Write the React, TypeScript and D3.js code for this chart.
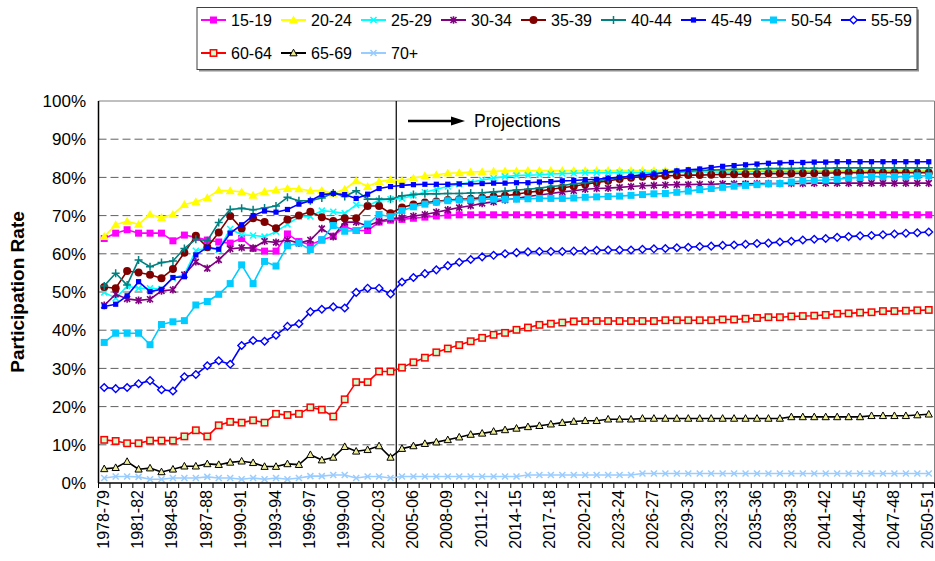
import React from "react";
import * as d3 from "d3";

const categories = [
  "1978-79","1979-80","1980-81","1981-82","1982-83","1983-84","1984-85","1985-86","1986-87","1987-88",
  "1988-89","1989-90","1990-91","1991-92","1992-93","1993-94","1994-95","1995-96","1996-97","1997-98",
  "1998-99","1999-00","2000-01","2001-02","2002-03","2003-04","2004-05","2005-06","2006-07","2007-08",
  "2008-09","2009-10","2010-11","2011-12","2012-13","2013-14","2014-15","2015-16","2016-17","2017-18",
  "2018-19","2019-20","2020-21","2021-22","2022-23","2023-24","2024-25","2025-26","2026-27","2027-28",
  "2028-29","2029-30","2030-31","2031-32","2032-33","2033-34","2034-35","2035-36","2036-37","2037-38",
  "2038-39","2039-40","2040-41","2041-42","2042-43","2043-44","2044-45","2045-46","2046-47","2047-48",
  "2048-49","2049-50","2050-51"
];

const yTicks = [0, 10, 20, 30, 40, 50, 60, 70, 80, 90, 100];
const projectionStart = "2004-05";

const s1519 = [64.0,65.4,66.3,65.4,65.4,65.4,63.4,64.9,64.3,63.6,63.1,62.8,64.0,61.4,60.7,60.7,65.2,63.2,62.4,63.6,64.6,67.1,66.1,66.1,68.3,68.8,
  69.0,69.3,69.6,69.9,70.1,70.2,70.2,70.2,70.2,70.2,70.2,70.2,70.2,70.2,70.2,70.2,70.2,70.2,70.2,70.2,70.2,70.2,70.2,70.2,
  70.2,70.2,70.2,70.2,70.2,70.2,70.2,70.2,70.2,70.2,70.2,70.2,70.2,70.2,70.2,70.2,70.2,70.2,70.2,70.2,70.2,70.2,70.2];
const s2024 = [64.5,67.6,68.5,67.7,70.3,69.5,70.3,72.9,73.6,74.7,76.6,76.5,76.2,75.3,76.3,76.7,77.1,77.0,76.5,76.6,75.8,76.9,79.1,77.6,78.9,79.4,
  79.2,79.8,80.4,80.7,81.1,81.2,81.4,81.5,81.6,81.7,81.7,81.8,81.8,81.8,81.8,81.8,81.8,81.8,81.8,81.8,81.8,81.8,81.8,81.8,
  81.8,81.8,81.8,81.8,81.8,81.8,81.8,81.8,81.8,81.8,81.8,81.8,81.8,81.8,81.8,81.8,81.8,81.8,81.8,81.8,81.8,81.8,81.8];
const s2529 = [49.9,48.4,51.5,51.0,51.0,50.8,53.6,54.6,60.8,61.5,61.0,66.5,65.0,64.8,64.5,65.8,67.7,69.7,69.8,71.3,71.0,70.6,72.8,72.5,74.0,74.3,
  74.5,75.3,76.1,76.9,77.6,78.2,78.7,79.3,79.8,80.2,80.5,80.6,80.7,80.9,81.0,81.1,81.2,81.2,81.2,81.3,81.3,81.3,81.3,81.4,
  81.4,81.4,81.4,81.4,81.4,81.4,81.4,81.5,81.5,81.5,81.5,81.5,81.5,81.5,81.5,81.5,81.5,81.5,81.5,81.5,81.5,81.5,81.5];
const s3034 = [46.5,49.4,48.2,47.8,48.1,50.3,50.6,54.5,57.9,56.2,58.4,61.3,61.6,61.5,63.3,63.0,63.6,62.8,63.6,66.6,64.5,68.3,68.3,67.3,68.5,69.2,
  69.4,69.9,70.3,70.9,71.5,72.1,72.6,73.2,73.6,74.1,74.5,75.0,75.4,75.8,76.2,76.5,76.9,77.1,77.2,77.4,77.6,77.8,77.9,78.0,
  78.1,78.1,78.2,78.2,78.3,78.3,78.3,78.4,78.4,78.4,78.4,78.4,78.5,78.5,78.5,78.5,78.5,78.5,78.5,78.5,78.5,78.5,78.5];
const s3539 = [51.3,51.0,55.5,55.1,54.5,53.6,56.0,60.3,64.7,61.7,65.6,69.9,66.6,69.3,68.3,66.7,69.0,70.0,71.0,69.6,68.6,69.3,69.3,72.5,72.5,70.6,
  72.1,72.9,73.4,73.7,74.1,74.3,74.4,74.7,75.0,75.2,75.6,76.1,76.4,76.9,77.3,77.7,78.2,78.7,79.1,79.6,79.9,80.2,80.3,80.4,
  80.5,80.6,80.6,80.7,80.8,80.8,80.9,80.9,81.0,81.0,81.0,81.1,81.1,81.1,81.2,81.2,81.2,81.2,81.2,81.2,81.2,81.2,81.2];
const s4044 = [51.6,54.9,51.8,58.4,56.6,57.7,58.1,61.4,63.8,63.4,68.2,71.6,71.9,71.5,72.0,72.5,74.8,73.9,73.9,74.6,75.9,75.0,76.5,74.3,74.3,74.3,
  75.2,75.5,75.7,75.7,75.8,75.8,75.9,76.0,76.2,76.4,76.7,76.9,77.2,77.6,77.9,78.3,78.6,79.1,79.5,79.9,80.4,80.6,80.9,81.2,
  81.4,81.6,81.8,81.9,82.0,82.1,82.2,82.2,82.3,82.3,82.3,82.4,82.4,82.4,82.5,82.5,82.5,82.5,82.5,82.5,82.5,82.5,82.5];
const s4549 = [46.2,46.8,49.0,52.7,50.1,50.7,53.8,54.0,59.7,61.7,61.2,65.4,67.6,70.0,71.2,70.9,71.6,73.0,73.9,75.5,75.8,75.5,74.5,75.6,77.1,77.6,
  77.9,78.1,78.2,78.2,78.2,78.3,78.3,78.4,78.5,78.5,78.6,78.6,78.8,78.9,79.1,79.2,79.4,79.5,79.8,80.0,80.3,80.6,80.9,81.3,
  81.7,82.0,82.2,82.6,82.9,83.1,83.3,83.5,83.7,83.8,83.9,83.9,84.0,84.0,84.1,84.1,84.1,84.1,84.1,84.1,84.1,84.1,84.1];
const s5054 = [36.8,39.2,39.2,39.2,36.2,41.5,42.2,42.5,46.6,47.5,49.4,52.2,57.1,52.2,58.0,56.8,62.1,62.8,61.1,63.7,67.4,65.9,66.1,67.8,70.3,69.7,
  71.3,72.3,73.0,73.5,73.9,74.1,74.1,74.3,74.3,74.3,74.3,74.4,74.5,74.5,74.5,74.6,74.8,74.9,75.0,75.1,75.3,75.5,75.7,75.8,
  76.1,76.4,76.8,77.1,77.4,77.7,77.9,78.1,78.3,78.4,78.8,79.1,79.2,79.3,79.5,79.8,80.0,80.2,80.2,80.2,80.2,80.4,80.4];
const s5559 = [25.0,24.7,25.0,26.0,26.8,24.4,24.1,27.8,28.4,30.7,32.0,31.1,36.0,37.3,37.1,38.7,41.0,41.7,44.8,45.5,46.1,45.8,49.9,51.0,51.0,49.5,
  52.6,53.8,54.8,55.8,56.9,57.8,58.5,59.2,59.6,60.0,60.3,60.5,60.6,60.6,60.6,60.7,60.8,60.9,61.0,61.0,61.0,61.2,61.3,61.4,
  61.6,61.7,61.9,62.0,62.2,62.3,62.5,62.7,62.8,63.1,63.3,63.6,63.8,64.0,64.3,64.5,64.7,64.8,65.0,65.2,65.4,65.5,65.7];
const s6064 = [11.3,11.0,10.4,10.4,11.1,11.1,11.1,12.2,13.8,12.2,15.1,16.0,15.8,16.4,15.8,18.1,17.8,18.1,19.8,19.2,17.4,21.9,26.4,26.4,29.2,29.2,
  30.2,31.6,32.8,34.2,35.2,36.1,37.1,38.0,38.8,39.3,40.1,40.7,41.4,41.7,42.0,42.3,42.4,42.4,42.4,42.4,42.4,42.4,42.4,42.6,
  42.6,42.6,42.6,42.6,42.8,42.8,43.0,43.2,43.4,43.4,43.6,43.7,43.8,44.0,44.3,44.4,44.6,44.7,45.0,45.0,45.1,45.2,45.3];
const s6569 = [3.7,4.0,5.6,3.6,3.9,2.9,3.6,4.4,4.4,5.0,4.8,5.4,5.7,5.3,4.3,4.3,5.0,4.8,7.4,6.0,6.7,9.5,8.3,8.7,9.7,6.7,
  9.0,9.7,10.3,10.7,11.3,12.0,12.7,13.0,13.5,13.9,14.3,14.7,15.0,15.4,15.8,16.1,16.3,16.3,16.7,16.7,16.7,16.9,16.9,16.9,
  16.9,16.9,16.9,16.9,16.9,16.9,16.9,16.9,16.9,16.9,17.3,17.3,17.3,17.3,17.3,17.3,17.3,17.6,17.6,17.6,17.6,17.8,18.0];
const s70 = [1.3,1.7,1.7,1.6,1.0,1.0,1.3,1.3,1.3,1.6,1.3,1.3,1.0,1.3,1.0,1.3,1.0,1.3,1.8,1.8,2.1,2.1,1.3,1.7,1.7,1.3,
  1.7,1.7,1.7,1.7,1.7,1.7,1.7,1.7,1.7,1.7,1.7,2.1,2.1,2.1,2.1,2.1,2.1,2.1,2.1,2.1,2.1,2.5,2.5,2.5,
  2.5,2.5,2.5,2.5,2.5,2.5,2.5,2.5,2.5,2.5,2.5,2.5,2.5,2.5,2.5,2.5,2.5,2.5,2.5,2.5,2.5,2.5,2.5];

const seriesNames = ["15-19","20-24","25-29","30-34","35-39","40-44","45-49","50-54","55-59","60-64","65-69","70+"];
const seriesValues = [s1519, s2024, s2529, s3034, s3539, s4044, s4549, s5054, s5559, s6064, s6569, s70];
const seriesColors = ["#FF00FF","#FFFF00","#00FFFF","#800080","#800000","#008080","#0000FF","#00CCFF","#0000FF","#FF0000","#000000","#99CCFF"];
const seriesMarkers = ["square","triangle","x","star","circle","plus","smallsq","square","diamond","opensq","opentri","x"];

const FONT = "'Liberation Sans', Arial, Helvetica, sans-serif";

function Marker({ type, cx, cy, color }: { type: string; cx: number; cy: number; color: string }) {
  switch (type) {
    case "square":
      return <rect x={cx - 3.5} y={cy - 3.5} width={7} height={7} fill={color} />;
    case "smallsq":
      return <rect x={cx - 2.6} y={cy - 2.6} width={5.2} height={5.2} fill={color} />;
    case "triangle":
      return <path d={`M${cx},${cy - 4.5}L${cx + 4.6},${cy + 3.4}L${cx - 4.6},${cy + 3.4}Z`} fill={color} />;
    case "circle":
      return <circle cx={cx} cy={cy} r={4} fill={color} />;
    case "x":
      return (
        <path d={`M${cx - 3},${cy - 3}L${cx + 3},${cy + 3}M${cx - 3},${cy + 3}L${cx + 3},${cy - 3}`} stroke={color} strokeWidth={1.5} fill="none" />
      );
    case "star":
      return (
        <path d={`M${cx - 3},${cy - 3}L${cx + 3},${cy + 3}M${cx - 3},${cy + 3}L${cx + 3},${cy - 3}M${cx},${cy - 3.8}L${cx},${cy + 3.8}`} stroke={color} strokeWidth={1.6} fill="none" />
      );
    case "plus":
      return (
        <path d={`M${cx - 4},${cy}L${cx + 4},${cy}M${cx},${cy - 4}L${cx},${cy + 4}`} stroke={color} strokeWidth={1.5} fill="none" />
      );
    case "diamond":
      return <path d={`M${cx},${cy - 3.8}L${cx + 3.8},${cy}L${cx},${cy + 3.8}L${cx - 3.8},${cy}Z`} fill="#FFFFFF" stroke={color} strokeWidth={1.4} />;
    case "opensq":
      return <rect x={cx - 3.2} y={cy - 3.2} width={6.4} height={6.4} fill="#CCFFCC" stroke={color} strokeWidth={1.5} />;
    case "opentri":
      return <path d={`M${cx},${cy - 3.8}L${cx + 3.6},${cy + 2.8}L${cx - 3.6},${cy + 2.8}Z`} fill="#EEEE99" stroke={color} strokeWidth={1} />;
    default:
      return null;
  }
}

export default function App() {
  const W = 935, H = 561;
  const left = 98.5, right = 934.5, top = 101, bottom = 483;
  const x = d3.scaleBand<string>().domain(categories).range([left, right]).paddingInner(0).paddingOuter(0);
  const y = d3.scaleLinear().domain([0, 100]).range([bottom, top]);
  const cx = (c: string) => (x(c) as number) + x.bandwidth() / 2;
  const line = d3.line<number>().x((_, i) => cx(categories[i])).y((d) => y(d));
  const divX = x(projectionStart) as number;

  const legendLeft = 197, legendTop = 7.5, legendW = 720, legendH = 62;
  const entryW = 80;

  return (
    <div style={{ position: "absolute", left: 0, top: 0, width: W, height: H, background: "#fff" }}>
      <svg width={W} height={H} style={{ display: "block", fontFamily: FONT }}>
        <rect x={0} y={0} width={W} height={H} fill="#fff" />
        {/* gridlines */}
        {yTicks.filter((t) => t > 0 && t < 100).map((t) => (
          <line key={"g" + t} x1={left} x2={right} y1={y(t)} y2={y(t)} stroke="#606060" strokeWidth={1} strokeDasharray="8,4" />
        ))}
        {/* plot border top/right */}
        <line x1={left} x2={right} y1={top} y2={top} stroke="#808080" strokeWidth={1} />
        <line x1={right} x2={right} y1={top} y2={bottom} stroke="#808080" strokeWidth={1} />
        {/* divider */}
        <line x1={divX} x2={divX} y1={top} y2={bottom} stroke="#000" strokeWidth={1.2} />
        {/* series */}
        {seriesValues.map((vals, si) => (
          <g key={"s" + si}>
            <path d={line(vals) as string} fill="none" stroke={seriesColors[si]} strokeWidth={1.6} strokeLinejoin="round" />
            {vals.map((v, i) => (
              <Marker key={i} type={seriesMarkers[si]} cx={cx(categories[i])} cy={y(v)} color={seriesColors[si]} />
            ))}
          </g>
        ))}
        {/* axes */}
        <line x1={left} x2={left} y1={top} y2={bottom} stroke="#000" strokeWidth={1.5} />
        <line x1={left} x2={right} y1={bottom} y2={bottom} stroke="#000" strokeWidth={1.5} />
        {categories.map((c, i) => (
          <line key={"t" + i} x1={x(c) as number} x2={x(c) as number} y1={bottom} y2={bottom + 5} stroke="#000" strokeWidth={1} />
        ))}
        <line x1={right} x2={right} y1={bottom} y2={bottom + 5} stroke="#000" strokeWidth={1} />
        {categories.map((c, i) =>
          i % 3 === 0 ? (
            <text key={"xl" + i} transform={`translate(${cx(c) + 4.5},${bottom + 7}) rotate(-90)`} textAnchor="end" fontSize={16} fill="#000">
              {c}
            </text>
          ) : null
        )}
        {yTicks.map((t) => (
          <text key={"yl" + t} x={86} y={y(t)} dy="0.36em" textAnchor="end" fontSize={17} fill="#000">
            {t + "%"}
          </text>
        ))}
        <text transform={`translate(24,${(top + bottom) / 2}) rotate(-90)`} textAnchor="middle" fontSize={19} fontWeight="bold" fill="#000">
          Participation Rate
        </text>
        {/* projections annotation */}
        <line x1={408} x2={453} y1={121} y2={121} stroke="#000" strokeWidth={2.5} />
        <path d="M451,116.5L465,121L451,125.5Z" fill="#000" />
        <text x={474} y={126.5} fontSize={17.5} fill="#000">Projections</text>
        {/* legend */}
        <rect x={legendLeft + 2} y={legendTop + 2} width={legendW} height={legendH} fill="#909090" />
        <rect x={legendLeft} y={legendTop} width={legendW} height={legendH} fill="#fff" stroke="#404040" strokeWidth={1} />
        {seriesNames.map((name, si) => {
          const row = si < 9 ? 0 : 1;
          const col = si < 9 ? si : si - 9;
          const x0 = legendLeft + col * entryW;
          const yy = legendTop + (row === 0 ? 12.5 : 45.5);
          return (
            <g key={"lg" + si}>
              <line x1={x0 + 4} x2={x0 + 29} y1={yy} y2={yy} stroke={seriesColors[si]} strokeWidth={2} />
              <Marker type={seriesMarkers[si]} cx={x0 + 16.5} cy={yy} color={seriesColors[si]} />
              <text x={x0 + 34} y={yy} dy="0.36em" fontSize={16} fill="#000">{name}</text>
            </g>
          );
        })}
      </svg>
    </div>
  );
}
